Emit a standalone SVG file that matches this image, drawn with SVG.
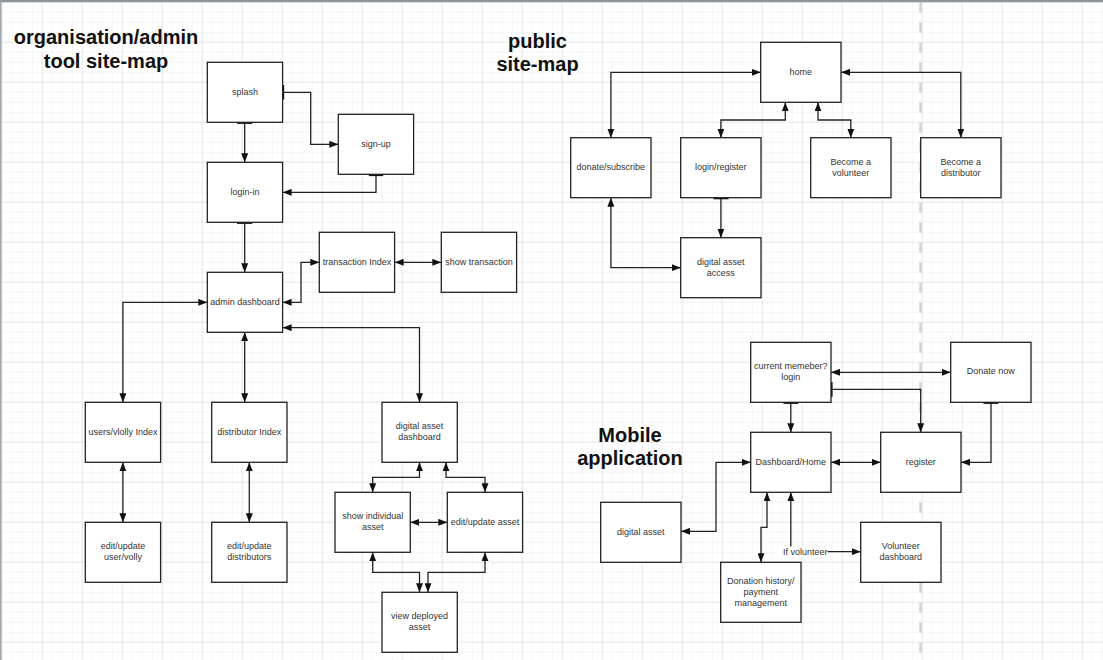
<svg xmlns="http://www.w3.org/2000/svg" width="1103" height="660" viewBox="0 0 1103 660">
<defs>
<pattern id="minor" patternUnits="userSpaceOnUse" x="1.7" y="1.7" width="10" height="10">
<path d="M0,0 H10 M0,0 V10" fill="none" stroke="#ececec" stroke-width="1"/>
</pattern>
<pattern id="major" patternUnits="userSpaceOnUse" x="1.7" y="1.7" width="40" height="40">
<path d="M0,0 H40 M0,0 V40" fill="none" stroke="#dadada" stroke-width="1"/>
</pattern>
<marker id="arr" markerUnits="userSpaceOnUse" viewBox="0 0 9 7" refX="9" refY="3.5" markerWidth="9" markerHeight="7" orient="auto-start-reverse">
<path d="M0,0 L9,3.5 L0,7 z" fill="#111"/>
</marker>
</defs>
<style>
.node rect{fill:#fff;stroke:#222;stroke-width:1.3}
.node text{font-family:"Liberation Sans",Arial,sans-serif;font-size:9px;fill:#333;text-anchor:middle}
.title{font-family:"Liberation Sans",Arial,sans-serif;font-size:20px;font-weight:bold;fill:#111;text-anchor:middle}
.e{fill:none;stroke:#222;stroke-width:1.3}
.b{marker-start:url(#arr);marker-end:url(#arr)}
.s{marker-end:url(#arr)}
.tick{stroke:#111;stroke-width:2}
.lbl{font-family:"Liberation Sans",Arial,sans-serif;font-size:9px;fill:#333;text-anchor:middle}
</style>
<rect width="1103" height="660" fill="#fff"/>
<rect width="1103" height="660" fill="url(#minor)"/>
<rect width="1103" height="660" fill="url(#major)"/>
<line x1="920.5" y1="2.7" x2="920.5" y2="660" stroke="#d2d2d2" stroke-width="2.5" stroke-dasharray="10 10"/>
<rect x="0" y="0" width="1103" height="2.2" fill="#8f959d"/>
<rect x="0" y="0" width="1.5" height="660" fill="#a0a5ac"/>

<g id="titles">
<text class="title" x="106" y="44.3">organisation/admin</text>
<text class="title" x="106" y="68">tool site-map</text>
<text class="title" x="537.5" y="47.5">public</text>
<text class="title" x="537.5" y="71">site-map</text>
<text class="title" x="630" y="441.7">Mobile</text>
<text class="title" x="630" y="465">application</text>
</g>

<g id="connectors">
<path class="e s" d="M244.7,122.3 V162.3"/>
<path class="e s" d="M282.6,92.3 H310.7 V144.3 H338.3"/>
<path class="e s" d="M376,174.6 V192.3 H282.6"/>
<path class="e s" d="M244.7,222.3 V272.3"/>
<path class="e b" d="M282.6,302.3 H301 V262.3 H319.3"/>
<path class="e b" d="M394.6,262.3 H441.3"/>
<path class="e b" d="M207.3,302.3 H122.9 V402.3"/>
<path class="e b" d="M244.7,332.3 V402.3"/>
<path class="e b" d="M282.6,327.7 H419.5 V402.3"/>
<path class="e b" d="M122.9,462.3 V522.3"/>
<path class="e b" d="M249.3,462.3 V522.3"/>
<path class="e b" d="M419.5,462.3 V477.3 H372.7 V492.3"/>
<path class="e b" d="M446,462.3 V477.3 H485 V492.3"/>
<path class="e b" d="M410.3,522.3 H447.3"/>
<path class="e b" d="M372.7,552.3 V572.3 H419.5 V592.3"/>
<path class="e b" d="M485,552.3 V572.3 H428 V592.3"/>

<path class="e b" d="M760.7,72.3 H610.9 V137.7"/>
<path class="e b" d="M785.3,102.3 V120 H720.9 V137.7"/>
<path class="e b" d="M818,102.3 V120 H850.8 V137.7"/>
<path class="e b" d="M841,72.3 H960.8 V137.7"/>
<path class="e s" d="M720.9,197.7 V237.7"/>
<path class="e b" d="M610.9,197.7 V267.7 H680.7"/>

<path class="e b" d="M831,372.3 H950.7"/>
<path class="e s" d="M831,389.3 H920.7 V432.3"/>
<path class="e s" d="M790.8,402.3 V432.3"/>
<path class="e s" d="M991,402.3 V462.3 H961"/>
<path class="e b" d="M831,462.3 H880.7"/>
<path class="e b" d="M750.7,462.3 H716 V531.3 H681"/>
<path class="e b" d="M767,492.3 V527.3 H761 V562.3"/>
<path class="e b" d="M790.8,492.3 V551.7 H860.7"/>
<rect x="783" y="546.5" width="44.5" height="10.5" fill="#fff"/>
<text class="lbl" x="805.2" y="554.8">If volunteer</text>

<line class="tick" x1="237" y1="122.9" x2="252.3" y2="122.9"/>
<line class="tick" x1="283.2" y1="85" x2="283.2" y2="99.5"/>
<line class="tick" x1="368.8" y1="175.1" x2="383.2" y2="175.1"/>
<line class="tick" x1="237" y1="222.9" x2="252.3" y2="222.9"/>
<line class="tick" x1="713.5" y1="198.3" x2="728.5" y2="198.3"/>
<line class="tick" x1="831.6" y1="382" x2="831.6" y2="396.7"/>
<line class="tick" x1="783.5" y1="402.9" x2="798.2" y2="402.9"/>
<line class="tick" x1="983.5" y1="402.9" x2="998.5" y2="402.9"/>
</g>

<g id="splash" class="node"><rect x="207.3" y="62.3" width="75.3" height="60"/><text x="245" y="95">splash</text></g>
<g id="sign-up" class="node"><rect x="338.3" y="114.3" width="75.3" height="60"/><text x="376" y="147">sign-up</text></g>
<g id="login-in" class="node"><rect x="207.3" y="162.3" width="75.3" height="60"/><text x="245" y="195">login-in</text></g>
<g id="admin-dashboard" class="node"><rect x="207.3" y="272.3" width="75.3" height="60"/><text x="245" y="305">admin dashboard</text></g>
<g id="transaction-index" class="node"><rect x="319.3" y="232.3" width="75.3" height="60"/><text x="357" y="265">transaction Index</text></g>
<g id="show-transaction" class="node"><rect x="441.3" y="232.3" width="75.3" height="60"/><text x="479" y="265">show transaction</text></g>
<g id="users-index" class="node"><rect x="85.3" y="402.3" width="75.3" height="60"/><text x="123" y="435">users/vlolly Index</text></g>
<g id="distributor-index" class="node"><rect x="211.7" y="402.3" width="75.3" height="60"/><text x="249.3" y="435">distributor Index</text></g>
<g id="digital-asset-dashboard" class="node"><rect x="382" y="402.3" width="75.3" height="60"/><text x="419.6" y="429.3">digital asset</text><text x="419.6" y="440.3">dashboard</text></g>
<g id="edit-user" class="node"><rect x="85.3" y="522.3" width="75.3" height="60"/><text x="123" y="549.3">edit/update</text><text x="123" y="560.3">user/volly</text></g>
<g id="edit-distributors" class="node"><rect x="211.7" y="522.3" width="75.3" height="60"/><text x="249.3" y="549.3">edit/update</text><text x="249.3" y="560.3">distributors</text></g>
<g id="show-individual-asset" class="node"><rect x="335" y="492.3" width="75.3" height="60"/><text x="372.7" y="519.3">show individual</text><text x="372.7" y="530.3">asset</text></g>
<g id="edit-asset" class="node"><rect x="447.3" y="492.3" width="75.3" height="60"/><text x="485" y="525">edit/update asset</text></g>
<g id="view-deployed-asset" class="node"><rect x="382" y="592.3" width="75.3" height="60"/><text x="419.6" y="619.3">view deployed</text><text x="419.6" y="630.3">asset</text></g>

<g id="home" class="node"><rect x="760.7" y="42.3" width="80.3" height="60"/><text x="800.8" y="74.8">home</text></g>
<g id="donate-subscribe" class="node"><rect x="570.7" y="137.7" width="80.3" height="60"/><text x="610.8" y="170.2">donate/subscribe</text></g>
<g id="login-register" class="node"><rect x="680.7" y="137.7" width="80.3" height="60"/><text x="720.8" y="170.2">login/register</text></g>
<g id="become-volunteer" class="node"><rect x="810.7" y="137.7" width="80.3" height="60"/><text x="850.8" y="164.5">Become a</text><text x="850.8" y="175.5">volunteer</text></g>
<g id="become-distributor" class="node"><rect x="920.7" y="137.7" width="80.3" height="60"/><text x="960.8" y="164.5">Become a</text><text x="960.8" y="175.5">distributor</text></g>
<g id="digital-asset-access" class="node"><rect x="680.7" y="237.7" width="80.3" height="60"/><text x="720.8" y="264.5">digital asset</text><text x="720.8" y="275.5">access</text></g>

<g id="current-member" class="node"><rect x="750.7" y="342.3" width="80.3" height="60"/><text x="790.8" y="369.2">current memeber?</text><text x="790.8" y="380.2">login</text></g>
<g id="donate-now" class="node"><rect x="950.7" y="342.3" width="80.3" height="60"/><text x="990.8" y="374.3">Donate now</text></g>
<g id="dashboard-home" class="node"><rect x="750.7" y="432.3" width="80.3" height="60"/><text x="790.8" y="464.8">Dashboard/Home</text></g>
<g id="register" class="node"><rect x="880.7" y="432.3" width="80.3" height="60"/><text x="920.8" y="464.8">register</text></g>
<g id="digital-asset" class="node"><rect x="600.7" y="502.3" width="80.3" height="60"/><text x="640.8" y="534.8">digital asset</text></g>
<g id="donation-history" class="node"><rect x="720.7" y="562.3" width="80.3" height="60"/><text x="760.8" y="584">Donation history/</text><text x="760.8" y="595">payment</text><text x="760.8" y="606">management</text></g>
<g id="volunteer-dashboard" class="node"><rect x="860.7" y="522.3" width="80.3" height="60"/><text x="900.8" y="549.3">Volunteer</text><text x="900.8" y="560.3">dashboard</text></g>
</svg>
